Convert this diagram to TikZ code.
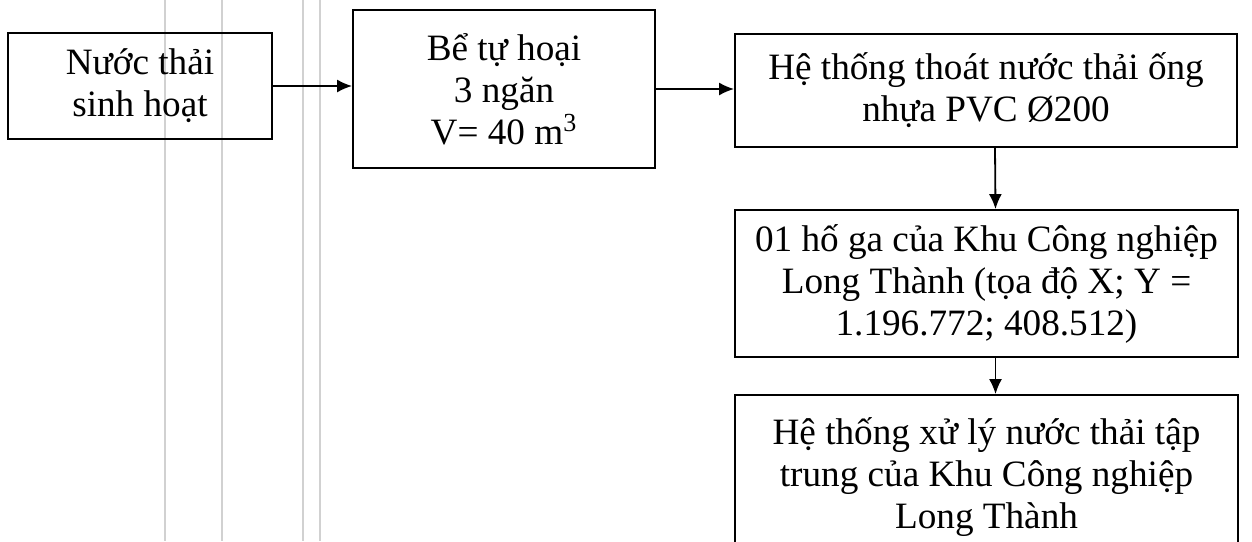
\documentclass[tikz,border=0pt]{standalone}
\usepackage{fontspec}
\setmainfont{Liberation Serif}
\usetikzlibrary{arrows.meta}
\begin{document}
\begin{tikzpicture}[x=0.5pt,y=-0.5pt,
  box/.style={draw=black,line width=0.9pt,align=center,inner sep=0pt,
    font=\fontsize{18.6}{21}\selectfont},
  flow/.style={line width=0.9pt,-{Latex[length=7.5pt,width=6.5pt]}},
  scanline/.style={draw=black!18,line width=0.6pt}]
\useasboundingbox (0,0) rectangle (1252,541);
\clip (0,0) rectangle (1252,541);
% faint scan lines
\foreach \xx in {165,222,303,320} \draw[scanline] (\xx,0) -- (\xx,541);
% boxes
\node[box,minimum width=132pt,minimum height=53pt] (b1) at (140,86) {Nước thải\\sinh hoạt};
\node[box,minimum width=151pt,minimum height=79pt] (b2) at (504,89) {Bể tự hoại\\3 ngăn\\V= 40 m\textsuperscript{3}};
\node[box,minimum width=251pt,minimum height=56.5pt] (b3) at (986,90.5) {Hệ thống thoát nước thải ống\\nhựa PVC Ø200};
\node[box,minimum width=251.5pt,minimum height=73.5pt] (b4) at (986.5,283.5) {01 hố ga của Khu Công nghiệp\\Long Thành (tọa độ X; Y =\\1.196.772; 408.512)};
\node[box,minimum width=251.5pt,minimum height=82pt] (b5) at (986.5,477) {Hệ thống xử lý nước thải tập\\trung của Khu Công nghiệp\\Long Thành};
% connectors
\draw[flow] (b1.east) -- (b2.west |- b1.east);
\draw[flow] (b2.east) -- (b3.west |- b2.east);
\draw[flow] ([xshift=4.5pt]b3.south) -- ([xshift=4.5pt]b4.north);
\draw[flow] ([xshift=4.5pt]b4.south) -- ([xshift=4.5pt]b5.north);
\end{tikzpicture}
\end{document}
